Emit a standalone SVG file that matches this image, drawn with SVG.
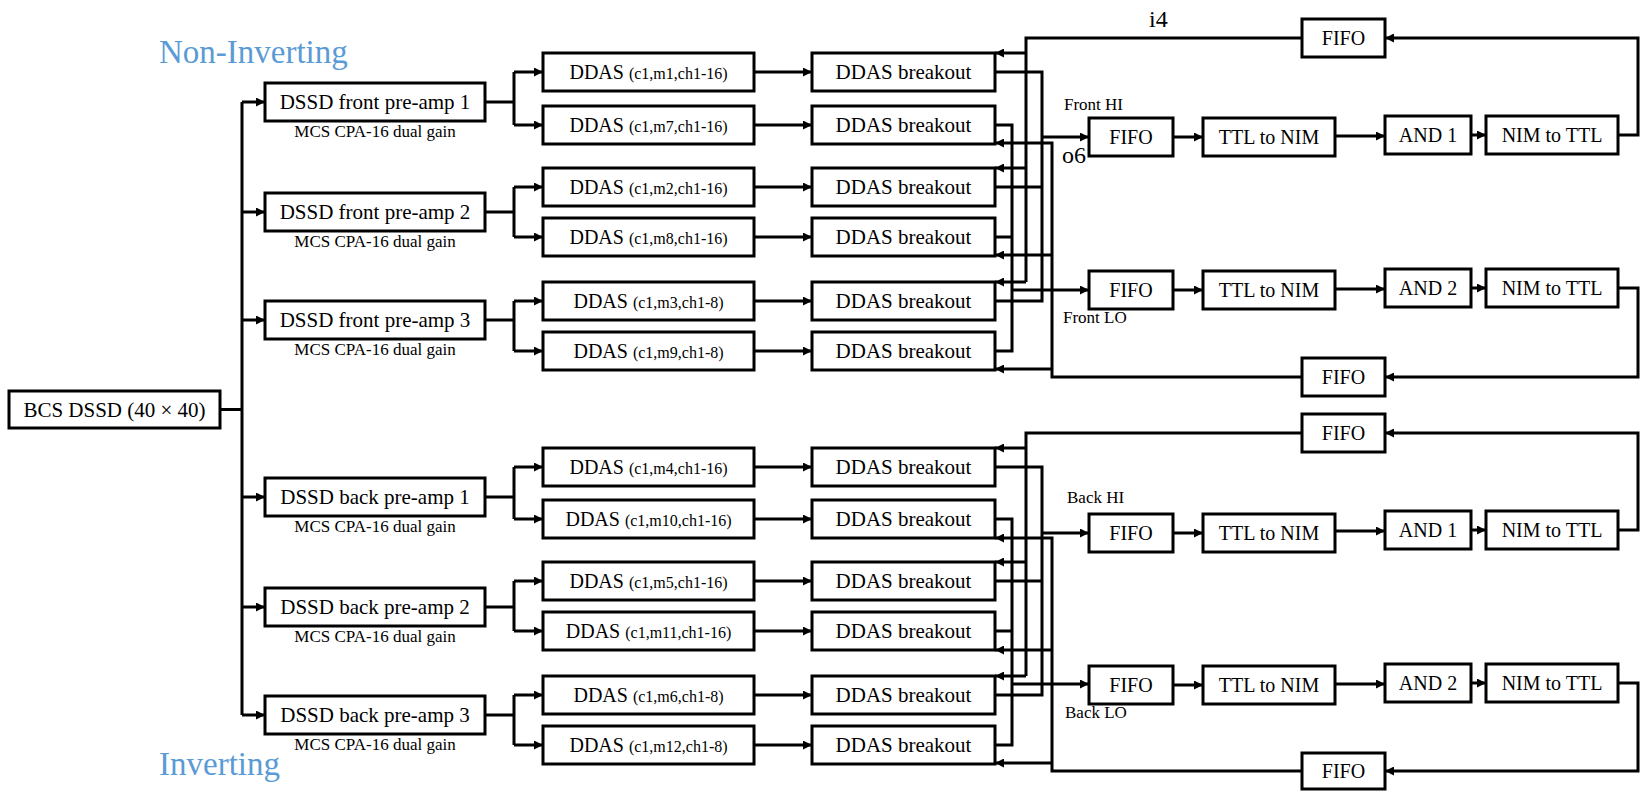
<svg xmlns="http://www.w3.org/2000/svg" width="1642" height="791" viewBox="0 0 1642 791">
<defs>
<marker id="ah" viewBox="0 0 10 10" refX="10" refY="5" markerWidth="9" markerHeight="9" markerUnits="userSpaceOnUse" orient="auto"><path d="M0,0 L10,5 L0,10 z" fill="#000"/></marker>
<style>
.box{fill:#fff;stroke:#000;stroke-width:3}
.t{font-family:"Liberation Serif",serif;font-size:21px;text-anchor:middle;fill:#000}
.f{font-family:"Liberation Serif",serif;font-size:20px;text-anchor:middle;fill:#000}
.s{font-family:"Liberation Serif",serif;font-size:17px;text-anchor:middle;fill:#000}
.p{font-size:16px}
.c{fill:none;stroke:#000;stroke-width:3}
.a{marker-end:url(#ah)}
.lab{font-family:"Liberation Serif",serif;font-size:33px;fill:#5B9BD5}
.sm{font-family:"Liberation Serif",serif;font-size:17px;fill:#000}
.big{font-family:"Liberation Serif",serif;font-size:24px;fill:#000}
</style>
</defs>
<rect width="1642" height="791" fill="#fff"/>

<g id="connectors">
<path class="c" d="M220,409.5 H242 M242,102 V715"/>
<path class="c a" d="M242,102 H265"/><path class="c a" d="M242,212 H265"/><path class="c a" d="M242,320 H265"/>
<path class="c a" d="M242,497 H265"/><path class="c a" d="M242,607 H265"/><path class="c a" d="M242,715 H265"/>
<path class="c" d="M485,102 H514 M514,72 V125 M485,212 H514 M514,187 V237 M485,320 H514 M514,301 V351 M485,497 H514 M514,467 V519 M485,607 H514 M514,581 V631 M485,715 H514 M514,695 V745"/>
<path class="c a" d="M514,72 H543"/><path class="c a" d="M514,125 H543"/>
<path class="c a" d="M514,187 H543"/><path class="c a" d="M514,237 H543"/>
<path class="c a" d="M514,301 H543"/><path class="c a" d="M514,351 H543"/>
<path class="c a" d="M514,467 H543"/><path class="c a" d="M514,519 H543"/>
<path class="c a" d="M514,581 H543"/><path class="c a" d="M514,631 H543"/>
<path class="c a" d="M514,695 H543"/><path class="c a" d="M514,745 H543"/>
<path class="c a" d="M754,72 H812"/><path class="c a" d="M754,125 H812"/>
<path class="c a" d="M754,187 H812"/><path class="c a" d="M754,237 H812"/>
<path class="c a" d="M754,301 H812"/><path class="c a" d="M754,351 H812"/>
<path class="c a" d="M754,467 H812"/><path class="c a" d="M754,519 H812"/>
<path class="c a" d="M754,581 H812"/><path class="c a" d="M754,631 H812"/>
<path class="c a" d="M754,695 H812"/><path class="c a" d="M754,745 H812"/>
<path class="c" d="M1302,38 H1026 V282"/>
<path class="c a" d="M1026,53 H995"/><path class="c a" d="M1026,168 H995"/><path class="c a" d="M1026,282 H995"/>
<path class="c" d="M995,72 H1042 V301 H995 M995,187 H1042"/>
<path class="c a" d="M1042,137 H1089"/>
<path class="c" d="M995,125 H1012 V351 H995 M995,237 H1012"/>
<path class="c a" d="M1012,290 H1089"/>
<path class="c a" d="M1302,377 H1052 V143 H995"/>
<path class="c a" d="M1052,255 H995"/><path class="c a" d="M1052,369 H995"/>
<path class="c a" d="M1173,137 H1203"/><path class="c a" d="M1335,136 H1385"/><path class="c a" d="M1471,135 H1486"/>
<path class="c a" d="M1618,135 H1638 V38 H1385"/>
<path class="c a" d="M1173,290 H1203"/><path class="c a" d="M1335,289 H1385"/><path class="c a" d="M1471,288 H1486"/>
<path class="c a" d="M1618,288 H1638 V377 H1385"/>
<path class="c" d="M1302,433 H1026 V676"/>
<path class="c a" d="M1026,448 H995"/><path class="c a" d="M1026,562 H995"/><path class="c a" d="M1026,676 H995"/>
<path class="c" d="M995,467 H1042 V695 H995 M995,581 H1042"/>
<path class="c a" d="M1042,533 H1089"/>
<path class="c" d="M995,519 H1012 V745 H995 M995,631 H1012"/>
<path class="c a" d="M1012,684 H1089"/>
<path class="c a" d="M1302,771 H1052 V538 H995"/>
<path class="c a" d="M1052,650 H995"/><path class="c a" d="M1052,763 H995"/>
<path class="c a" d="M1173,533 H1203"/><path class="c a" d="M1335,531 H1385"/><path class="c a" d="M1471,530 H1486"/>
<path class="c a" d="M1618,530 H1638 V433 H1385"/>
<path class="c a" d="M1173,685 H1203"/><path class="c a" d="M1335,684 H1385"/><path class="c a" d="M1471,683 H1486"/>
<path class="c a" d="M1618,683 H1638 V771 H1385"/>
</g>

<g id="labels">
<text class="lab" x="159" y="63">Non-Inverting</text>
<text class="lab" x="159" y="775">Inverting</text>
<text class="big" x="1149" y="27">i4</text>
<text class="big" x="1062" y="163">o6</text>
<text class="sm" x="1064" y="110">Front HI</text>
<text class="sm" x="1063" y="323">Front LO</text>
<text class="sm" x="1067" y="503">Back HI</text>
<text class="sm" x="1065" y="718">Back LO</text>
</g>

<g id="bcs"><rect class="box" x="9" y="391" width="211" height="37"/><text class="t" x="114.5" y="417">BCS DSSD (40 × 40)</text></g>

<g id="preamp-f1"><rect class="box" x="265" y="83" width="220" height="38"/><text class="t" x="375" y="109">DSSD front pre-amp 1</text><text class="s" x="375" y="137">MCS CPA-16 dual gain</text></g>
<g id="preamp-f2"><rect class="box" x="265" y="193" width="220" height="38"/><text class="t" x="375" y="219">DSSD front pre-amp 2</text><text class="s" x="375" y="247">MCS CPA-16 dual gain</text></g>
<g id="preamp-f3"><rect class="box" x="265" y="301" width="220" height="38"/><text class="t" x="375" y="327">DSSD front pre-amp 3</text><text class="s" x="375" y="355">MCS CPA-16 dual gain</text></g>
<g id="preamp-b1"><rect class="box" x="265" y="478" width="220" height="38"/><text class="t" x="375" y="504">DSSD back pre-amp 1</text><text class="s" x="375" y="532">MCS CPA-16 dual gain</text></g>
<g id="preamp-b2"><rect class="box" x="265" y="588" width="220" height="38"/><text class="t" x="375" y="614">DSSD back pre-amp 2</text><text class="s" x="375" y="642">MCS CPA-16 dual gain</text></g>
<g id="preamp-b3"><rect class="box" x="265" y="696" width="220" height="38"/><text class="t" x="375" y="722">DSSD back pre-amp 3</text><text class="s" x="375" y="750">MCS CPA-16 dual gain</text></g>

<g id="ddas-m1"><rect class="box" x="543" y="53" width="211" height="38"/><text class="f" x="648.5" y="79">DDAS <tspan class="p">(c1,m1,ch1-16)</tspan></text></g>
<g id="ddas-m7"><rect class="box" x="543" y="106" width="211" height="38"/><text class="f" x="648.5" y="132">DDAS <tspan class="p">(c1,m7,ch1-16)</tspan></text></g>
<g id="ddas-m2"><rect class="box" x="543" y="168" width="211" height="38"/><text class="f" x="648.5" y="194">DDAS <tspan class="p">(c1,m2,ch1-16)</tspan></text></g>
<g id="ddas-m8"><rect class="box" x="543" y="218" width="211" height="38"/><text class="f" x="648.5" y="244">DDAS <tspan class="p">(c1,m8,ch1-16)</tspan></text></g>
<g id="ddas-m3"><rect class="box" x="543" y="282" width="211" height="38"/><text class="f" x="648.5" y="308">DDAS <tspan class="p">(c1,m3,ch1-8)</tspan></text></g>
<g id="ddas-m9"><rect class="box" x="543" y="332" width="211" height="38"/><text class="f" x="648.5" y="358">DDAS <tspan class="p">(c1,m9,ch1-8)</tspan></text></g>
<g id="ddas-m4"><rect class="box" x="543" y="448" width="211" height="38"/><text class="f" x="648.5" y="474">DDAS <tspan class="p">(c1,m4,ch1-16)</tspan></text></g>
<g id="ddas-m10"><rect class="box" x="543" y="500" width="211" height="38"/><text class="f" x="648.5" y="526">DDAS <tspan class="p">(c1,m10,ch1-16)</tspan></text></g>
<g id="ddas-m5"><rect class="box" x="543" y="562" width="211" height="38"/><text class="f" x="648.5" y="588">DDAS <tspan class="p">(c1,m5,ch1-16)</tspan></text></g>
<g id="ddas-m11"><rect class="box" x="543" y="612" width="211" height="38"/><text class="f" x="648.5" y="638">DDAS <tspan class="p">(c1,m11,ch1-16)</tspan></text></g>
<g id="ddas-m6"><rect class="box" x="543" y="676" width="211" height="38"/><text class="f" x="648.5" y="702">DDAS <tspan class="p">(c1,m6,ch1-8)</tspan></text></g>
<g id="ddas-m12"><rect class="box" x="543" y="726" width="211" height="38"/><text class="f" x="648.5" y="752">DDAS <tspan class="p">(c1,m12,ch1-8)</tspan></text></g>

<g id="brk-m1"><rect class="box" x="812" y="53" width="183" height="38"/><text class="t" x="903.5" y="79">DDAS breakout</text></g>
<g id="brk-m7"><rect class="box" x="812" y="106" width="183" height="38"/><text class="t" x="903.5" y="132">DDAS breakout</text></g>
<g id="brk-m2"><rect class="box" x="812" y="168" width="183" height="38"/><text class="t" x="903.5" y="194">DDAS breakout</text></g>
<g id="brk-m8"><rect class="box" x="812" y="218" width="183" height="38"/><text class="t" x="903.5" y="244">DDAS breakout</text></g>
<g id="brk-m3"><rect class="box" x="812" y="282" width="183" height="38"/><text class="t" x="903.5" y="308">DDAS breakout</text></g>
<g id="brk-m9"><rect class="box" x="812" y="332" width="183" height="38"/><text class="t" x="903.5" y="358">DDAS breakout</text></g>
<g id="brk-m4"><rect class="box" x="812" y="448" width="183" height="38"/><text class="t" x="903.5" y="474">DDAS breakout</text></g>
<g id="brk-m10"><rect class="box" x="812" y="500" width="183" height="38"/><text class="t" x="903.5" y="526">DDAS breakout</text></g>
<g id="brk-m5"><rect class="box" x="812" y="562" width="183" height="38"/><text class="t" x="903.5" y="588">DDAS breakout</text></g>
<g id="brk-m11"><rect class="box" x="812" y="612" width="183" height="38"/><text class="t" x="903.5" y="638">DDAS breakout</text></g>
<g id="brk-m6"><rect class="box" x="812" y="676" width="183" height="38"/><text class="t" x="903.5" y="702">DDAS breakout</text></g>
<g id="brk-m12"><rect class="box" x="812" y="726" width="183" height="38"/><text class="t" x="903.5" y="752">DDAS breakout</text></g>

<g id="fifo-ftop"><rect class="box" x="1302" y="19" width="83" height="38"/><text class="f" x="1343.5" y="45">FIFO</text></g>
<g id="fifo-fhi"><rect class="box" x="1089" y="118" width="84" height="38"/><text class="f" x="1131" y="144">FIFO</text></g>
<g id="ttl-fhi"><rect class="box" x="1203" y="118" width="132" height="38"/><text class="f" x="1269" y="144">TTL to NIM</text></g>
<g id="and-fhi"><rect class="box" x="1385" y="116" width="86" height="38"/><text class="f" x="1428" y="142">AND 1</text></g>
<g id="nim-fhi"><rect class="box" x="1486" y="116" width="132" height="38"/><text class="f" x="1552" y="142">NIM to TTL</text></g>
<g id="fifo-flo"><rect class="box" x="1089" y="271" width="84" height="38"/><text class="f" x="1131" y="297">FIFO</text></g>
<g id="ttl-flo"><rect class="box" x="1203" y="271" width="132" height="38"/><text class="f" x="1269" y="297">TTL to NIM</text></g>
<g id="and-flo"><rect class="box" x="1385" y="269" width="86" height="38"/><text class="f" x="1428" y="295">AND 2</text></g>
<g id="nim-flo"><rect class="box" x="1486" y="269" width="132" height="38"/><text class="f" x="1552" y="295">NIM to TTL</text></g>
<g id="fifo-fbot"><rect class="box" x="1302" y="358" width="83" height="38"/><text class="f" x="1343.5" y="384">FIFO</text></g>

<g id="fifo-btop"><rect class="box" x="1302" y="414" width="83" height="38"/><text class="f" x="1343.5" y="440">FIFO</text></g>
<g id="fifo-bhi"><rect class="box" x="1089" y="514" width="84" height="38"/><text class="f" x="1131" y="540">FIFO</text></g>
<g id="ttl-bhi"><rect class="box" x="1203" y="514" width="132" height="38"/><text class="f" x="1269" y="540">TTL to NIM</text></g>
<g id="and-bhi"><rect class="box" x="1385" y="511" width="86" height="38"/><text class="f" x="1428" y="537">AND 1</text></g>
<g id="nim-bhi"><rect class="box" x="1486" y="511" width="132" height="38"/><text class="f" x="1552" y="537">NIM to TTL</text></g>
<g id="fifo-blo"><rect class="box" x="1089" y="666" width="84" height="38"/><text class="f" x="1131" y="692">FIFO</text></g>
<g id="ttl-blo"><rect class="box" x="1203" y="666" width="132" height="38"/><text class="f" x="1269" y="692">TTL to NIM</text></g>
<g id="and-blo"><rect class="box" x="1385" y="664" width="86" height="38"/><text class="f" x="1428" y="690">AND 2</text></g>
<g id="nim-blo"><rect class="box" x="1486" y="664" width="132" height="38"/><text class="f" x="1552" y="690">NIM to TTL</text></g>
<g id="fifo-bbot"><rect class="box" x="1302" y="753" width="83" height="36"/><text class="f" x="1343.5" y="778">FIFO</text></g>
</svg>
